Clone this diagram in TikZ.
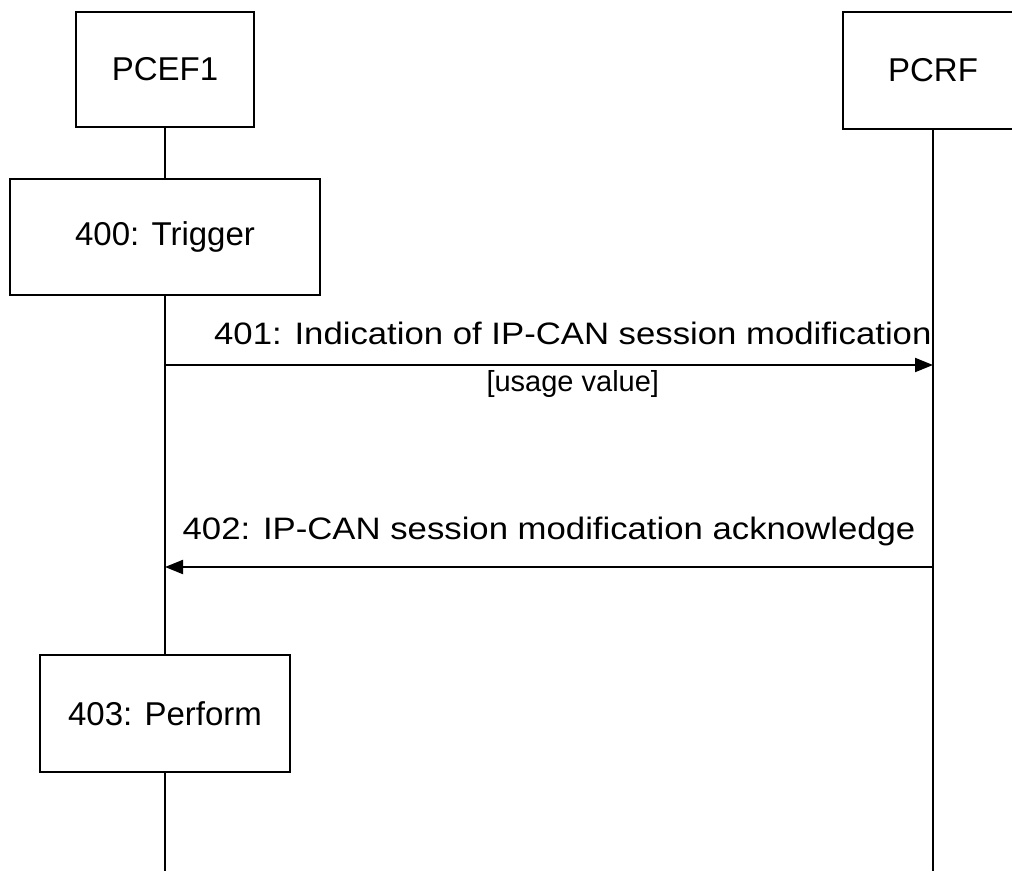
\documentclass[tikz,border=0pt]{standalone}
\usepackage{fontspec}
\setmainfont{Liberation Sans}
\newfontfamily\msgfont{Liberation Sans}[FakeStretch=1.12]
\usetikzlibrary{arrows.meta}

\begin{document}
\begin{tikzpicture}[x=1pt,y=-1pt,>={Triangle[length=18pt,width=14pt]},
	box/.style={draw,line width=2.5pt,inner sep=0pt,font=\fontsize{33}{40}\selectfont},
	life/.style={line width=2pt},
	msg/.style={line width=2pt,->},
	msglabel/.style={font=\msgfont\fontsize{31}{37}\selectfont,anchor=base,inner sep=0pt},
	sublabel/.style={font=\fontsize{29}{35}\selectfont,anchor=base,inner sep=0pt}]
			\useasboundingbox (0,0) rectangle (1012,871);
			%\draw [help lines] (0,0) grid (1012,871);
			% entities
			\node[box,minimum width=178pt,minimum height=115pt] (pcef) at (165,69.5) {PCEF1};
			\node[box,minimum width=180pt,minimum height=117pt] (pcrf) at (933,70.5) {PCRF};
			% local steps on PCEF1
			\node[box,minimum width=310pt,minimum height=116pt] (trig) at (165,237) {400: Trigger};
			\node[box,minimum width=250pt,minimum height=117pt] (perf) at (165,713.5) {403: Perform};
			\coordinate (pcefend) at (165,871);
			\coordinate (pcrfend) at (933,871);
			% lifelines
			\draw[life] (pcef) -- (trig);
			\draw[life] (trig) -- (perf);
			\draw[life] (perf) -- (pcefend);
			\draw[life] (pcrf) -- (pcrfend);
			% messages
			\coordinate (m1a) at (165,365);
			\coordinate (m1b) at (933,365);
			\coordinate (m2a) at (933,567);
			\coordinate (m2b) at (165,567);
			\draw[msg] (m1a) -- (m1b)
				node[msglabel,pos=0.531,yshift=21pt] {401: Indication of IP-CAN session modification}
				node[sublabel,pos=0.531,yshift=-26pt] {[usage value]};
			\draw[msg] (m2a) -- (m2b)
				node[msglabel,pos=0.5,yshift=28pt] {402: IP-CAN session modification acknowledge};
	\end{tikzpicture}
\end{document}
